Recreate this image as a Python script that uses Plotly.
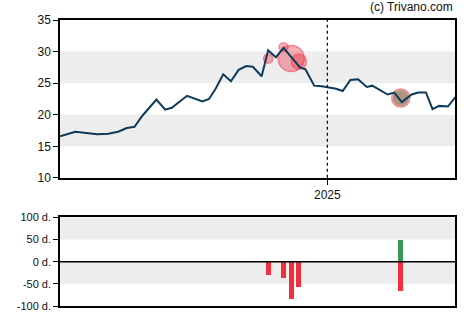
import plotly.graph_objects as go
from plotly.subplots import make_subplots

# ---- data ----
dates = ["2024-05-02", "2024-05-16", "2024-05-26", "2024-06-05", "2024-06-15", "2024-06-24",
         "2024-07-02", "2024-07-09", "2024-07-16", "2024-07-29", "2024-08-06", "2024-08-12",
         "2024-08-26", "2024-09-09", "2024-09-15", "2024-09-21", "2024-09-28", "2024-10-05",
         "2024-10-12", "2024-10-19", "2024-10-25", "2024-11-02", "2024-11-08", "2024-11-15",
         "2024-11-22", "2024-11-30", "2024-12-07", "2024-12-12", "2024-12-20", "2024-12-27",
         "2025-01-02", "2025-01-09", "2025-01-15", "2025-01-22", "2025-01-29", "2025-02-06",
         "2025-02-11", "2025-02-25", "2025-03-03", "2025-03-10", "2025-03-19", "2025-03-25",
         "2025-04-01", "2025-04-07", "2025-04-13", "2025-04-21", "2025-04-28"]
prices = [16.6, 17.3, 17.1, 16.9, 17.0, 17.3,
          17.9, 18.1, 19.8, 22.4, 20.8, 21.1,
          23.0, 22.1, 22.5, 24.1, 26.4, 25.3,
          27.1, 27.7, 27.6, 26.1, 30.2, 29.1,
          30.6, 29.0, 27.5, 27.2, 24.6, 24.5,
          24.3, 24.1, 23.75, 25.5, 25.6, 24.4,
          24.6, 23.2, 23.5, 22.0, 23.2, 23.5,
          23.5, 20.9, 21.4, 21.3, 22.8]

# insider trades (sell circles)
sell_dates = ["2024-11-08", "2024-11-22", "2024-11-29", "2024-12-06", "2025-03-09"]
sell_prices = [28.9, 30.7, 28.9, 28.4, 22.65]
sell_sizes = [9, 9, 26, 15, 18]
buy_dates = ["2025-03-09"]
buy_prices = [22.65]
buy_sizes = [16]

# bottom bars (days)
bar_dates = ["2024-11-08", "2024-11-22", "2024-11-29", "2024-12-06", "2025-03-09"]
bar_neg = [-30, -38, -86, -58, -66]
bar_pos_dates = ["2025-03-09"]
bar_pos = [48]

y_ticks = [10, 15, 20, 25, 30, 35]
d_ticks = [-100, -50, 0, 50, 100]
d_labels = ["-100 d.", "-50 d.", "0 d.", "50 d.", "100 d."]

x_range = ["2024-05-02", "2025-04-27 12:00"]
line_col = "#0e3a5a"
red = "#f0303f"
green = "#3a9657"
band = "#ededed"

fig = make_subplots(rows=2, cols=1, shared_xaxes=False, vertical_spacing=0.0)

# circles
fig.add_trace(go.Scatter(x=buy_dates, y=buy_prices, mode="markers",
                         marker=dict(size=buy_sizes, color="rgb(115,135,85)",
                                     line=dict(width=0)), showlegend=False), row=1, col=1)
sell_fill = ["rgba(240,50,70,0.55)"] * 4 + ["rgba(240,50,70,0.25)"]
fig.add_trace(go.Scatter(x=sell_dates, y=sell_prices, mode="markers",
                         marker=dict(size=sell_sizes, color=sell_fill,
                                     line=dict(width=1.5, color="rgba(235,60,80,0.85)")),
                         showlegend=False), row=1, col=1)
fig.add_trace(go.Scatter(x=dates, y=prices, mode="lines",
                         line=dict(color=line_col, width=2), showlegend=False), row=1, col=1)

bw = 4.5 * 86400000
fig.add_trace(go.Bar(x=bar_dates, y=bar_neg, marker=dict(color=red, line=dict(width=0)),
                     width=bw, showlegend=False), row=2, col=1)
fig.add_trace(go.Bar(x=bar_pos_dates, y=bar_pos, marker=dict(color=green, line=dict(width=0)),
                     width=bw, showlegend=False), row=2, col=1)

# bands
for lo, hi in [(15, 20), (25, 30)]:
    fig.add_shape(type="rect", xref="x domain", yref="y", x0=0, x1=1, y0=lo, y1=hi,
                  fillcolor=band, line=dict(width=0), layer="below")
for lo, hi in [(50, 100), (-50, 0)]:
    fig.add_shape(type="rect", xref="x2 domain", yref="y2", x0=0, x1=1, y0=lo, y1=hi,
                  fillcolor=band, line=dict(width=0), layer="below")
# zero line
fig.add_shape(type="line", xref="x2 domain", yref="y2", x0=0, x1=1, y0=0, y1=0,
              line=dict(color="black", width=1.5))
# 2025 dotted line
fig.add_shape(type="line", xref="x", yref="y domain", x0="2025-01-01", x1="2025-01-01",
              y0=0, y1=1, line=dict(color="black", width=1.2, dash="dot"))

font = dict(family="Liberation Sans, Arial, sans-serif", size=12, color="#111")
fig.update_layout(
    width=470, height=325, margin=dict(l=60, r=15, t=20, b=15),
    paper_bgcolor="white", plot_bgcolor="white", font=font, bargap=0, barmode="relative",
    showlegend=False,
)
fig.update_xaxes(range=x_range, showgrid=False, zeroline=False, showline=True,
                 linecolor="black", linewidth=1.5, mirror=True)
fig.update_xaxes(row=1, col=1, domain=[0, 1], tickvals=["2025-01-01"], ticktext=["2025"],
                 ticks="outside", ticklen=5, tickcolor="black", tickfont=dict(size=12))
fig.update_xaxes(row=2, col=1, showticklabels=False, ticks="")
fig.update_yaxes(row=1, col=1, domain=[0.448, 1.0], range=[10, 35], tickvals=y_ticks,
                 ticks="outside", ticklen=5, tickcolor="black", showgrid=False,
                 zeroline=False, showline=True, linecolor="black", linewidth=1.5, mirror=True,
                 tickfont=dict(size=12))
fig.update_yaxes(row=2, col=1, domain=[0.0, 0.31], range=[-100, 100], tickvals=d_ticks,
                 ticktext=d_labels, ticks="outside", ticklen=5, tickcolor="black",
                 showgrid=False, zeroline=False, showline=True, linecolor="black",
                 linewidth=1.5, mirror=True, tickfont=dict(size=11))

fig.add_annotation(text="(c) Trivano.com", xref="paper", yref="paper", x=1, y=1,
                   xanchor="right", yanchor="bottom", yshift=4, showarrow=False,
                   font=dict(size=12, color="#111"))

fig.write_html("out.html")
